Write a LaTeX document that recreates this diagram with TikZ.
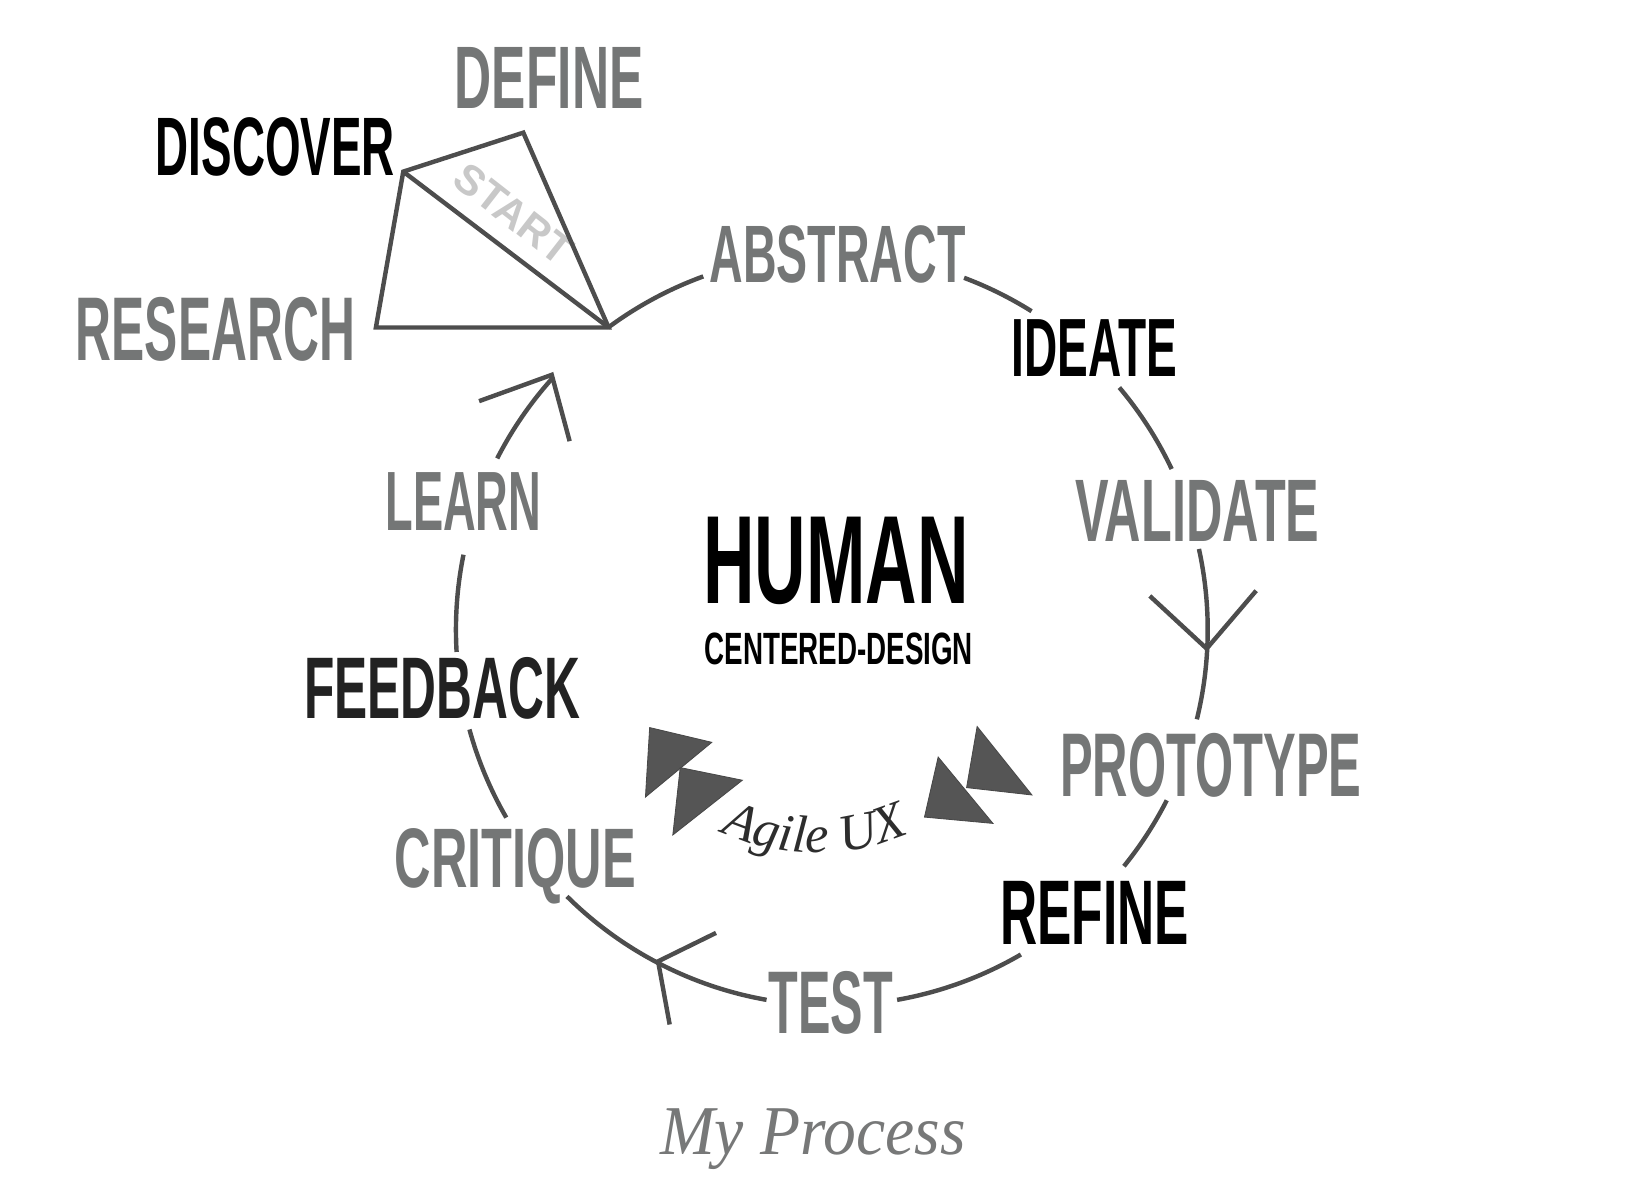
\documentclass[tikz,border=0pt]{standalone}
\usepackage{fontspec}
\usepackage{graphicx}
\usetikzlibrary{calc}
\newfontfamily\condfont{Liberation Sans}
\newfontfamily\serffont{Liberation Serif}
\definecolor{lblgray}{RGB}{116,118,118}
\definecolor{linegray}{RGB}{77,77,77}
\definecolor{startgray}{RGB}{200,200,200}
\definecolor{trifill}{RGB}{85,85,85}
\definecolor{fbblack}{RGB}{34,34,34}
\definecolor{mpgray}{RGB}{119,120,120}
\definecolor{aggray}{RGB}{45,45,45}
\newcommand{\fitlbl}[3]{\resizebox{#1pt}{#2pt}{\condfont\bfseries #3}}
\begin{document}
\begin{tikzpicture}[x=1pt,y=-1pt,
  lbl/.style={inner sep=0pt, outer sep=0pt, anchor=base west},
  cyc/.style={draw=linegray, line width=4.2pt},
  tri/.style={fill=trifill, draw=trifill!85!black, line width=0.8pt, line join=miter},
  agile/.style={inner sep=0pt, outer sep=0pt, anchor=base, text=aggray, font=\serffont\fontsize{50}{50}\selectfont\itshape}]
\useasboundingbox (0,0) rectangle (1568,1139);
\coordinate (c) at (790,598);
\coordinate (ag) at (776,592);

% labels
\node[lbl, text=lblgray] (define) at (432,103) {\fitlbl{179}{58}{DEFINE}};
\node[lbl, text=black] (discover) at (148,167) {\fitlbl{227}{55}{DISCOVER}};
\node[lbl, text=lblgray] (research) at (72,342) {\fitlbl{265}{60}{RESEARCH}};
\node[lbl, text=lblgray] (abstract) at (674,268) {\fitlbl{243}{54}{ABSTRACT}};
\node[lbl, text=black] (ideate) at (961,358) {\fitlbl{157}{54}{IDEATE}};
\node[lbl, text=lblgray] (validate) at (1021,514) {\fitlbl{232}{58}{VALIDATE}};
\node[lbl, text=lblgray] (prototype) at (1007,756) {\fitlbl{286}{60}{PROTOTYPE}};
\node[lbl, text=black] (refine) at (950,897) {\fitlbl{179}{60}{REFINE}};
\node[lbl, text=lblgray] (test) at (730,982) {\fitlbl{118}{59}{TEST}};
\node[lbl, text=lblgray] (critique) at (375,843) {\fitlbl{229}{56}{CRITIQUE}};
\node[lbl, text=fbblack] (feedback) at (289,682) {\fitlbl{262}{58}{FEEDBACK}};
\node[lbl, text=lblgray] (learn) at (366,504) {\fitlbl{148}{55}{LEARN}};
\node[lbl, text=black] (human) at (668,573) {\fitlbl{252}{82}{HUMAN}};
\node[lbl, text=black] (centered) at (669,631) {\fitlbl{255}{30}{CENTERED-DESIGN}};

% start shape
\coordinate (qd) at (383,163);
\coordinate (qf) at (497,126);
\coordinate (qs) at (578,311);
\coordinate (qr) at (357,311);
\node[rotate=-38, text=startgray, inner sep=0pt] (start) at (488,203) {\fitlbl{130}{28}{START}};
\draw[cyc, line join=miter] (qd) -- (qf) -- (qs) -- (qr) -- cycle;
\draw[cyc] (qd) -- (qs);

% cycle arcs
\draw[cyc] (c) ++(-126.5:357) arc(-126.5:-110:357);
\draw[cyc] (c) ++(-69.4:357) arc(-69.4:-57.9:357);
\draw[cyc] (c) ++(-40.1:357) arc(-40.1:-25.3:357);
\draw[cyc] (c) ++(-12.4:357) arc(-12.4:13.8:357);
\draw[cyc] (c) ++(27:357) arc(27:39:357);
\draw[cyc] (c) ++(59.8:357) arc(59.8:80:357);
\draw[cyc] (c) ++(100:357) arc(100:134.8:357);
\draw[cyc] (c) ++(150:357) arc(150:164.6:357);
\draw[cyc] (c) ++(176.6:357) arc(176.6:191.5:357);
\draw[cyc] (c) ++(207.1:357) arc(207.1:222:357);

% arrowheads
\coordinate (tipA) at (524,356);
\coordinate (tipAl) at (455,381);
\coordinate (tipAr) at (541,419);
\draw[cyc] (tipAl) -- (tipA) -- (tipAr);
\coordinate (tipB) at (1146,616);
\coordinate (tipBl) at (1092,566);
\coordinate (tipBr) at (1193,561);
\draw[cyc] (tipBl) -- (tipB) -- (tipBr);
\coordinate (tipC) at (625,913);
\coordinate (tipCl) at (680,886);
\coordinate (tipCr) at (636,973);
\draw[cyc] (tipCl) -- (tipC) -- (tipCr);

% agile triangles
\draw[tri] (617,691) -- (676,705) -- (613,757) -- cycle;
\draw[tri] (646,729) -- (705,741) -- (639,793) -- cycle;
\draw[tri] (928,690) -- (980,755) -- (918,748) -- cycle;
\draw[tri] (891,719) -- (943,782) -- (878,776) -- cycle;

% Agile UX along arc
\foreach \ch/\ang [count=\i] in {A/110.76, g/103.47, i/98.35, l/94.69, e/89.93, U/78.99, X/70.24}
  \node[agile, rotate=90-\ang] (agile\i) at ($(ag)+(\ang:218)$) {\ch};

% caption
\node[lbl, text=mpgray] (myprocess) at (627,1096) {\resizebox{290pt}{43.5pt}{\serffont\itshape My Process}};
\end{tikzpicture}
\end{document}
